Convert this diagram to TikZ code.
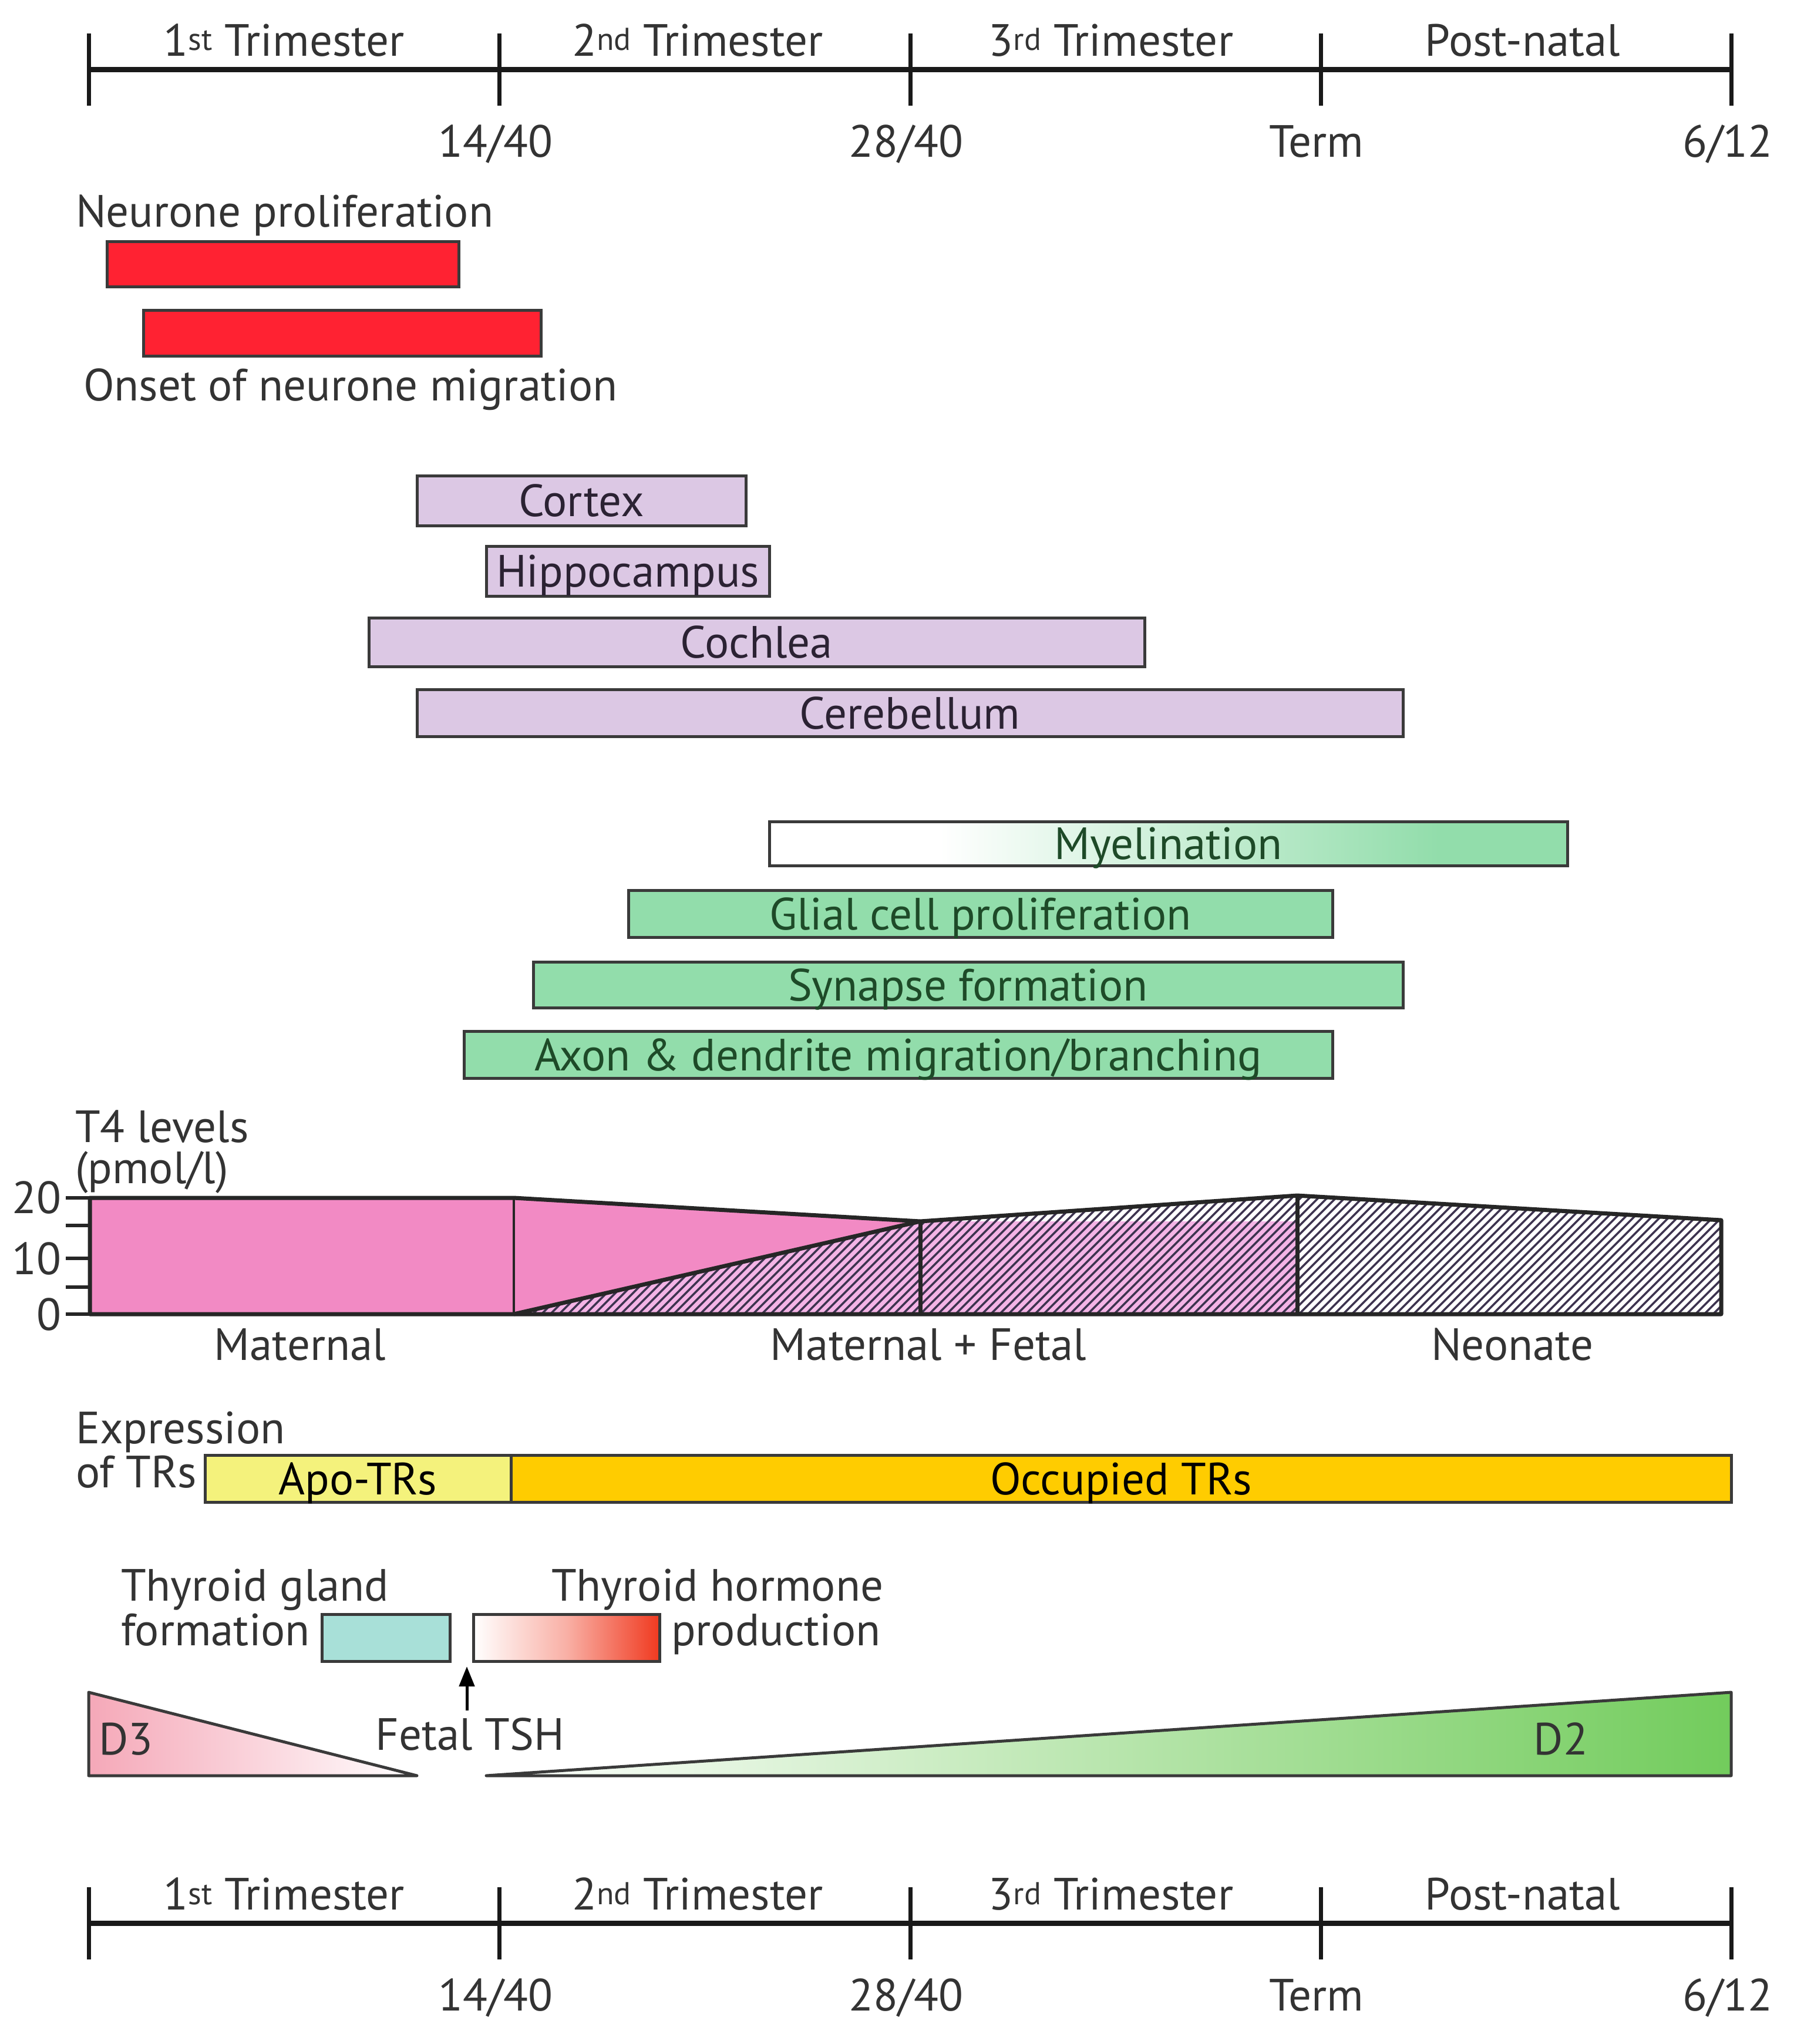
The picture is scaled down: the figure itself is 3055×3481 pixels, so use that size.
\documentclass[tikz,border=0pt]{standalone}
\usepackage{fontspec}
\setmainfont{PT Sans}
\usetikzlibrary{arrows.meta}
\definecolor{redbar}{HTML}{FF2232}
\definecolor{lav}{HTML}{DCC8E4}
\definecolor{grn}{HTML}{92DDAB}
\definecolor{pinkT}{HTML}{F28AC4}
\definecolor{pinkL}{HTML}{F4B4E6}
\definecolor{hatchc}{HTML}{3E3450}
\definecolor{apo}{HTML}{F4F27C}
\definecolor{occ}{HTML}{FFCC00}
\definecolor{tealc}{HTML}{A8E0D8}
\definecolor{thr}{HTML}{F03A20}
\definecolor{dthree}{HTML}{F5A8B8}
\definecolor{dtwo}{HTML}{72CC5C}
\definecolor{txt}{HTML}{333333}
\definecolor{barline}{HTML}{3A3A3A}
\definecolor{lavtxt}{HTML}{2B2233}
\definecolor{grntxt}{HTML}{1E4A28}
\begin{document}
\begin{tikzpicture}[x=1pt,y=-1pt,
  lbl/.style={font=\fontsize{77}{87}\selectfont, text=txt, inner sep=0, outer sep=0},
  bar/.style={draw=barline, line width=5, inner sep=0, outer sep=0, anchor=north west,
              font=\fontsize{77}{87}\selectfont, text height=54, text depth=0},
  tl/.style={line width=9, draw=black!90},
  tickline/.style={line width=7, draw=black!90},
  chartline/.style={line width=7, draw=black!85, line join=round},
  innerline/.style={line width=4, draw=black!85},
  hatchline/.style={line width=3.5, draw=hatchc},
]
\useasboundingbox[fill=white] (0,0) rectangle (3055,3481);

% ---------- timelines ----------
\foreach \oy/\nm in {0/top,3157/bot}{
  \draw[tl] (151,118+\oy) -- (2948,118+\oy);
  \foreach \x in {151,850,1550,2249,2948} \draw[tickline] (\x,57+\oy) -- (\x,180+\oy);
  \node[lbl, anchor=base] (\nm-t1) at (484,95+\oy) {1\textsuperscript{st} Trimester};
  \node[lbl, anchor=base] (\nm-t2) at (1188,95+\oy) {2\textsuperscript{nd} Trimester};
  \node[lbl, anchor=base] (\nm-t3) at (1892,95+\oy) {3\textsuperscript{rd} Trimester};
  \node[lbl, anchor=base] (\nm-t4) at (2593,95+\oy) {Post-natal};
  \node[lbl, anchor=base] (\nm-d1) at (844,267+\oy) {14/40};
  \node[lbl, anchor=base] (\nm-d2) at (1543,267+\oy) {28/40};
  \node[lbl, anchor=base] (\nm-d3) at (2242,267+\oy) {Term};
  \node[lbl, anchor=base] (\nm-d4) at (2942,267+\oy) {6/12};
}

% ---------- neurone ----------
\node[lbl, anchor=base west] (npl) at (129,386) {Neurone proliferation};
\node[bar, fill=redbar, minimum width=599, minimum height=77] (np) at (182,411) {};
\node[bar, fill=redbar, minimum width=677, minimum height=78] (nm) at (244,528) {};
\node[lbl, anchor=base west] (nml) at (142,682) {Onset of neurone migration};

% ---------- lavender ----------
\node[bar, fill=lav, text=lavtxt, minimum width=560, minimum height=85] (cortex) at (710,810) {Cortex};
\node[bar, fill=lav, text=lavtxt, minimum width=482, minimum height=85] (hippo) at (828,930) {Hippocampus};
\node[bar, fill=lav, text=lavtxt, minimum width=1321, minimum height=83] (cochlea) at (628,1052) {Cochlea};
\node[bar, fill=lav, text=lavtxt, minimum width=1679, minimum height=80] (cereb) at (710,1174) {Cerebellum};

% ---------- green ----------
\fill[white] (1310,1399) rectangle (1600,1474);
\shade[left color=white, right color=grn] (1600,1399) rectangle (2450,1474);
\fill[grn] (2450,1399) rectangle (2669,1474);
\node[bar, text=grntxt, minimum width=1359, minimum height=75] (myel) at (1310,1399) {Myelination};
\node[bar, fill=grn, text=grntxt, minimum width=1199, minimum height=80] (glial) at (1070,1516) {Glial cell proliferation};
\node[bar, fill=grn, text=grntxt, minimum width=1481, minimum height=78] (syn) at (908,1638) {Synapse formation};
\node[bar, fill=grn, text=grntxt, minimum width=1479, minimum height=80] (axon) at (790,1756) {Axon \& dendrite migration/branching};

% ---------- T4 chart ----------
\node[lbl, anchor=base west] (t4a) at (128,1945) {T4 levels};
\node[lbl, anchor=base west] (t4b) at (128,2015) {(pmol/l)};
\fill[pinkT] (153,2040) rectangle (875,2238);
\fill[pinkT] (875,2040) -- (1567,2080) -- (875,2238) -- cycle;
\fill[pinkL] (875,2238) -- (1567,2080) -- (2209,2080) -- (2209,2238) -- cycle;
\begin{scope}
  \clip (875,2238) -- (1567,2080) -- (2209,2036) -- (2931,2078) -- (2931,2238) -- cycle;
  \foreach \i in {0,...,160} \draw[hatchline] (640+\i*15,2250) -- ++(240,-240);
\end{scope}
\draw[chartline] (153,2040) -- (875,2040) -- (1567,2080) -- (2209,2036) -- (2931,2078) -- (2931,2238) -- (153,2238) -- cycle;
\draw[innerline] (875,2040) -- (875,2238);
\draw[chartline] (1567,2080) -- (1567,2238);
\draw[chartline] (2209,2036) -- (2209,2238);
\draw[chartline] (875,2238) -- (1567,2080);
\foreach \yy in {2040,2087,2143,2192,2238} \draw[line width=6, draw=black!85] (112,\yy) -- (153,\yy);
\node[lbl, anchor=base east] (y20) at (104,2066) {20};
\node[lbl, anchor=base east] (y10) at (104,2170) {10};
\node[lbl, anchor=base east] (y0) at (104,2265) {0};
\node[lbl, anchor=base] (mat) at (511,2316) {Maternal};
\node[lbl, anchor=base] (matfet) at (1581,2316) {Maternal + Fetal};
\node[lbl, anchor=base] (neo) at (2575,2316) {Neonate};

% ---------- TRs ----------
\node[lbl, anchor=base west] (expa) at (129,2458) {Expression};
\node[lbl, anchor=base west] (expb) at (129,2533) {of TRs};
\node[bar, fill=apo, minimum width=521, minimum height=80] (apo) at (349,2478) {Apo-TRs};
\node[bar, fill=occ, minimum width=2078, minimum height=80] (occ) at (870,2478) {Occupied TRs};

% ---------- thyroid ----------
\node[lbl, anchor=base west] (tga) at (206,2726) {Thyroid gland};
\node[lbl, anchor=base west] (tgb) at (206,2802) {formation};
\node[bar, fill=tealc, minimum width=218, minimum height=80] (tgbox) at (548,2749) {};
\shade[left color=white, right color=thr, middle color=thr!40!white] (806,2749) rectangle (1123,2829);
\node[bar, minimum width=317, minimum height=80] (thbox) at (806,2749) {};
\node[lbl, anchor=base west] (tha) at (939,2726) {Thyroid hormone};
\node[lbl, anchor=base west] (thb) at (1143,2802) {production};
\node[lbl, anchor=base] (tsh) at (800,2980) {Fetal TSH};
\coordinate (tshfoot) at (795,2913);
\coordinate (tshtip) at (795,2838);
\draw[line width=5, -{Triangle[length=34, width=26]}] (tshfoot) -- (tshtip);

% ---------- deiodinases ----------
\shade[left color=dthree, right color=white] (151,2882) -- (151,3024) -- (710,3024) -- cycle;
\draw[line width=5, draw=barline, line join=round] (151,2882) -- (151,3024) -- (710,3024) -- cycle;
\node[lbl, anchor=base west] (d3) at (168,2988) {D3};
\shade[left color=white, right color=dtwo] (828,3024) -- (2948,2882) -- (2948,3024) -- cycle;
\draw[line width=5, draw=barline, line join=round] (828,3024) -- (2948,2882) -- (2948,3024) -- cycle;
\node[lbl, anchor=base] (d2) at (2658,2988) {D2};
\end{tikzpicture}
\end{document}
